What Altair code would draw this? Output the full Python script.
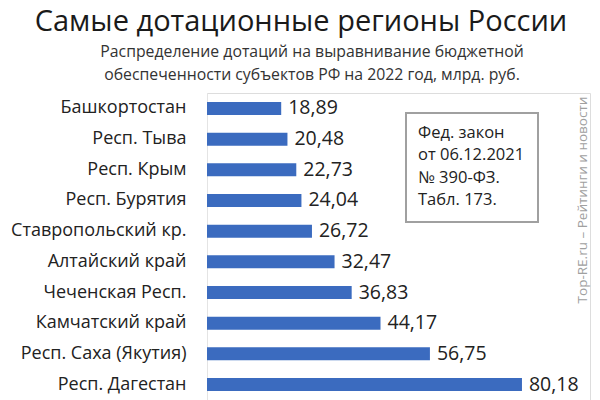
import altair as alt
import pandas as pd

regions = ["Башкортостан", "Респ. Тыва", "Респ. Крым", "Респ. Бурятия", "Ставропольский кр.",
           "Алтайский край", "Чеченская Респ.", "Камчатский край", "Респ. Саха (Якутия)", "Респ. Дагестан"]
values = [18.89, 20.48, 22.73, 24.04, 26.72, 32.47, 36.83, 44.17, 56.75, 80.18]
labels = ["18,89", "20,48", "22,73", "24,04", "26,72", "32,47", "36,83", "44,17", "56,75", "80,18"]

title = "Самые дотационные регионы России"
subtitle = ["Распределение дотаций на выравнивание бюджетной",
            "обеспеченности субъектов РФ на 2022 год, млрд. руб."]
note = ["Фед. закон", "от 06.12.2021", "№ 390-ФЗ.", "Табл. 173."]
watermark = "Top-RE.ru – Рейтинги и новости"

df = pd.DataFrame({"region": regions, "value": values, "label": labels})

W, H = 383, 307
FONT = "Open Sans"

x = alt.X("value:Q", scale=alt.Scale(domain=[0, 97.5]), axis=None)
y = alt.Y("region:N", sort=regions, title=None,
          scale=alt.Scale(paddingInner=0.55, paddingOuter=0.28),
          axis=alt.Axis(labelFont=FONT, labelFontSize=18, labelColor="#222", ticks=False,
                        domainColor="#e4e4e4", labelPadding=21, labelLimit=250))

bars = alt.Chart(df).mark_bar(color="#3b6bbf", size=13).encode(x=x, y=y)
text = alt.Chart(df).mark_text(align="left", baseline="middle", dx=7, font=FONT,
                               fontSize=19.5, color="#222").encode(x=x, y=y, text="label:N")

base = alt.Chart(pd.DataFrame({"a": [0]}))
title_t = base.mark_text(font=FONT, fontSize=29, color="#1a1a1a", align="center",
                         baseline="middle").encode(x=alt.value(301 - 207), y=alt.value(22 - 93),
                                                   text=alt.value(title))
sub1 = base.mark_text(font=FONT, fontSize=15.8, color="#333", align="center",
                      baseline="middle").encode(x=alt.value(312 - 207), y=alt.value(52 - 93),
                                                text=alt.value(subtitle[0]))
sub2 = base.mark_text(font=FONT, fontSize=15.8, color="#333", align="center",
                      baseline="middle").encode(x=alt.value(312 - 207), y=alt.value(75 - 93),
                                                text=alt.value(subtitle[1]))
box = base.mark_rect(fill="white", stroke="#a0a0a0", strokeWidth=2).encode(
    x=alt.value(406 - 207), x2=alt.value(538 - 207), y=alt.value(113 - 93), y2=alt.value(222 - 93))
note_layers = [
    base.mark_text(font=FONT, fontSize=16.5, color="#222", align="left", baseline="middle").encode(
        x=alt.value(418 - 207), y=alt.value(yy - 93), text=alt.value(t))
    for t, yy in zip(note, [133, 155, 178, 200])
]
wm = base.mark_text(font=FONT, fontSize=13.5, color="#a0a0a0", angle=270, align="center",
                    baseline="middle").encode(x=alt.value(583 - 207), y=alt.value(200 - 93),
                                              text=alt.value(watermark))

chart = alt.layer(bars, text, title_t, sub1, sub2, box, *note_layers, wm).properties(
    width=W, height=H,
    autosize=alt.AutoSizeParams(type="none"),
    padding={"left": 207, "top": 93, "right": 10, "bottom": 0},
).configure_view(stroke=None).configure(background="white")

chart.save("out.html", embed_options={"renderer": "svg", "actions": False})
